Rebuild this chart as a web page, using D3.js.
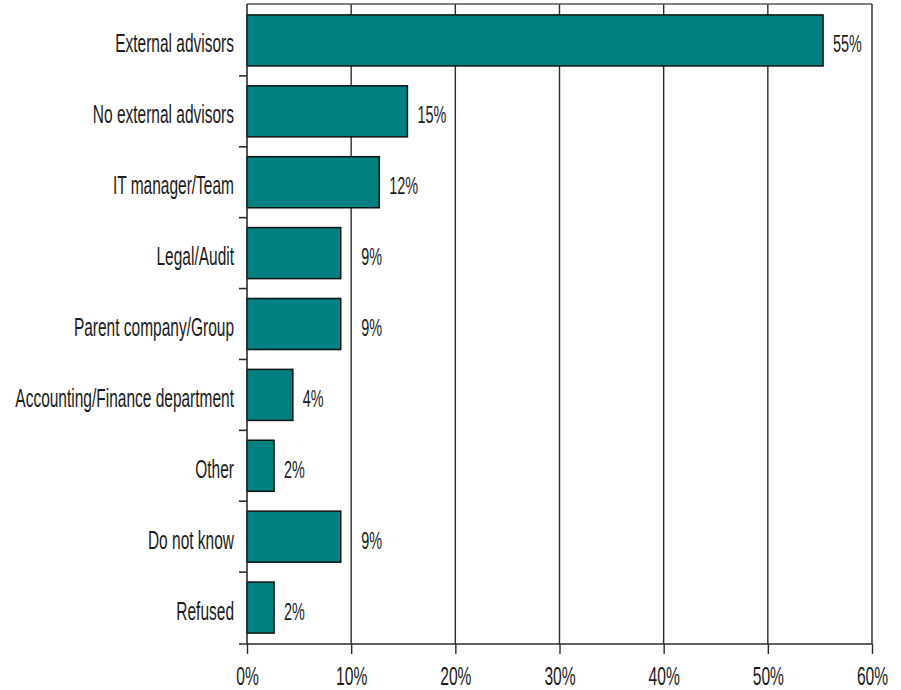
<!DOCTYPE html>
<html>
<head>
<meta charset="utf-8">
<script src="https://cdn.jsdelivr.net/npm/d3@7"></script>
<style>
  html, body { margin: 0; padding: 0; background: #fff; }
  svg { display: block; }
  text { font-family: "Liberation Sans", Arial, sans-serif; fill: #1a1a1a; }
</style>
</head>
<body>
<svg id="chart" width="901" height="690"></svg>
<script>
const categories = [
  "External advisors",
  "No external advisors",
  "IT manager/Team",
  "Legal/Audit",
  "Parent company/Group",
  "Accounting/Finance department",
  "Other",
  "Do not know",
  "Refused"
];
const values = [55.3, 15.4, 12.7, 9.0, 9.0, 4.4, 2.6, 9.0, 2.6];
const valueLabels = ["55%", "15%", "12%", "9%", "9%", "4%", "2%", "9%", "2%"];
const xTicks = [0, 10, 20, 30, 40, 50, 60];
const xTickLabels = ["0%", "10%", "20%", "30%", "40%", "50%", "60%"];

(function () {
const svg = d3.select("#chart");
const pLeft = 247, pRight = 872, pTop = 4, pBottom = 644;
const SX = 0.6;   // horizontal condensing of tick/value text
const SXC = 0.62; // horizontal condensing of category labels

const x = d3.scaleLinear().domain([0, 60]).range([pLeft, pRight]);
const y = d3.scaleBand().domain(categories).range([pTop + 1, pBottom - 1])
  .paddingInner(0.28).paddingOuter(0.14);

const lineColor = "#2b2b2b";

// gridlines
svg.append("g").selectAll("line")
  .data(xTicks.filter(t => t > 0 && t < 60))
  .join("line")
  .attr("x1", d => x(d)).attr("x2", d => x(d))
  .attr("y1", pTop).attr("y2", pBottom)
  .attr("stroke", lineColor).attr("stroke-width", 1.4);

// frame top and right
svg.append("line").attr("x1", pLeft).attr("x2", pRight).attr("y1", pTop).attr("y2", pTop)
  .attr("stroke", "#555").attr("stroke-width", 1.6);
svg.append("line").attr("x1", pRight).attr("x2", pRight).attr("y1", pTop).attr("y2", pBottom)
  .attr("stroke", lineColor).attr("stroke-width", 1.4);

// bars
svg.append("g").selectAll("rect")
  .data(categories)
  .join("rect")
  .attr("x", x(0))
  .attr("y", d => y(d))
  .attr("width", (d, i) => x(values[i]) - x(0))
  .attr("height", y.bandwidth())
  .attr("fill", "#008080")
  .attr("stroke", "#111")
  .attr("stroke-width", 1.5);

// bottom axis
const xAxis = d3.axisBottom(x).tickValues(xTicks)
  .tickFormat((d, i) => xTickLabels[i]).tickSize(10).tickSizeOuter(0);
const gx = svg.append("g").attr("transform", `translate(0,${pBottom})`).call(xAxis);
gx.select(".domain").remove();
gx.append("line").attr("x1", pLeft - 8).attr("x2", pRight).attr("y1", 0).attr("y2", 0)
  .attr("stroke", lineColor).attr("stroke-width", 1.6);
gx.selectAll(".tick line").attr("stroke", lineColor).attr("stroke-width", 1.4);
gx.selectAll(".tick text")
  .attr("y", 41).attr("dy", 0)
  .attr("font-size", 26)
  .attr("fill", "#1a1a1a")
  .attr("font-family", "'Liberation Sans', Arial, sans-serif")
  .attr("transform", `scale(${SX},1)`);

// left axis (vertical line + boundary ticks)
svg.append("line").attr("x1", pLeft).attr("x2", pLeft).attr("y1", pTop).attr("y2", pBottom)
  .attr("stroke", lineColor).attr("stroke-width", 1.6);
const step = y.step();
svg.append("g").selectAll("line")
  .data(categories.slice(1))
  .join("line")
  .attr("x1", pLeft - 8).attr("x2", pLeft)
  .attr("y1", d => y(d) - step * y.paddingInner() / 2)
  .attr("y2", d => y(d) - step * y.paddingInner() / 2)
  .attr("stroke", lineColor).attr("stroke-width", 1.6);

// category labels
svg.append("g").selectAll("text")
  .data(categories)
  .join("text")
  .attr("transform", d => `translate(${pLeft - 13},${y(d) + y.bandwidth() / 2 + 12}) scale(${SXC},1)`)
  .attr("text-anchor", "end")
  .attr("font-size", 25)
  .text(d => d);

// value labels
svg.append("g").selectAll("text")
  .data(categories)
  .join("text")
  .attr("transform", (d, i) => {
    let lx = x(values[i]) + 10;
    const w = valueLabels[i].length * 8;
    const nextGrid = xTicks.find(t => x(t) > x(values[i]) + 1);
    if (nextGrid !== undefined && lx + w > x(nextGrid) - 2) lx = x(nextGrid) + 10;
    return `translate(${lx},${y(d) + y.bandwidth() / 2 + 12}) scale(${SX},1)`;
  })
  .attr("font-size", 24)
  .text((d, i) => valueLabels[i]);
})();
</script>
</body>
</html>
